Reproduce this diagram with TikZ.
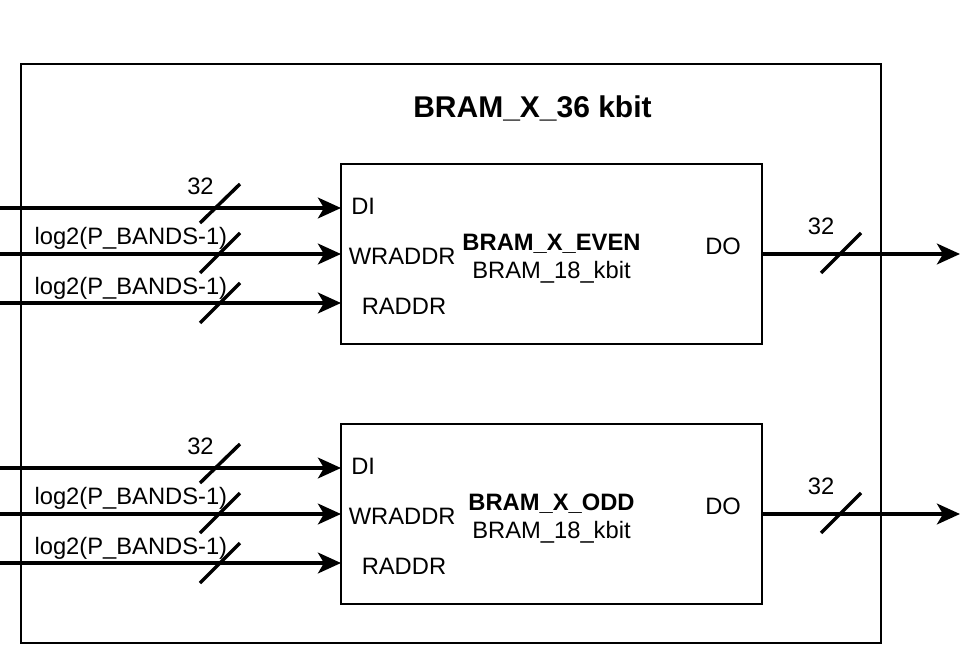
\documentclass[tikz,border=0pt]{standalone}
\usepackage{fontspec}
\setmainfont{Liberation Sans}
\usetikzlibrary{arrows.meta}
\tikzset{
  px/.style={x=0.75pt,y=-0.75pt},
  blk/.style={draw=black,line width=1.5pt,inner sep=0pt,minimum width=315.75pt,minimum height=135pt},
  outer/.style={draw=black,line width=1.5pt,inner sep=0pt,minimum width=645pt,minimum height=434.25pt},
  sig/.style={line width=3pt,-{Stealth[length=17.25pt,width=15.5pt,inset=4.5pt]}},
  slash/.style={line width=2.6pt},
  txt/.style={inner sep=0pt,font=\fontsize{17.8pt}{20pt}\selectfont},
  ttl/.style={inner sep=0pt,font=\fontsize{22.5pt}{26pt}\selectfont\bfseries},
  bt/.style={inner sep=0pt,font=\fontsize{17.8pt}{20pt}\selectfont\bfseries},
}
\begin{document}
\begin{tikzpicture}[px]
\useasboundingbox (0,0) rectangle (966,656);
\fill[white] (0,0) rectangle (966,656);
\node[outer] (top) at (451,353.5) {};
\node[ttl,anchor=base] (title) at (532.5,117.5) {BRAM\_X\_36 kbit};
\foreach \n/\dy/\name in {ev/0/BRAM\_X\_EVEN, od/260/BRAM\_X\_ODD}{
  \node[blk] (\n) at (551.5,254+\dy) {};
  \node[bt,anchor=base] (\n-name) at (551.5,250.5+\dy) {\name};
  \node[txt,anchor=base] (\n-sub) at (551.5,278+\dy) {BRAM\_18\_kbit};
  \node[txt,anchor=base west] (\n-di) at (351,214+\dy) {DI};
  \node[txt,anchor=base west] (\n-wr) at (348.5,264+\dy) {WRADDR};
  \node[txt,anchor=base west] (\n-rd) at (361.5,314+\dy) {RADDR};
  \node[txt,anchor=base west] (\n-do) at (705,254+\dy) {DO};
  % ports
  \coordinate (\n-pdi) at (341,208+\dy);
  \coordinate (\n-pwr) at (341,254+\dy);
  \coordinate (\n-prd) at (341,303+\dy);
  \coordinate (\n-pdo) at (762,254+\dy);
  \coordinate (\n-sdi) at (0,208+\dy);
  \coordinate (\n-swr) at (0,254+\dy);
  \coordinate (\n-srd) at (0,303+\dy);
  \coordinate (\n-out) at (960,254+\dy);
  \draw[sig] (\n-sdi) -- (\n-pdi);
  \draw[sig] (\n-swr) -- (\n-pwr);
  \draw[sig] (\n-srd) -- (\n-prd);
  \draw[sig] (\n-pdo) -- (\n-out);
  % bus slashes
  \draw[slash] (200,223+\dy) -- (240,184+\dy);
  \draw[slash] (200,273+\dy) -- (240,233+\dy);
  \draw[slash] (200,323+\dy) -- (240,283+\dy);
  \draw[slash] (821,273+\dy) -- (861,233+\dy);
  % bus labels
  \node[txt,anchor=base] (\n-w1) at (200.5,194+\dy) {32};
  \node[txt,anchor=base west] (\n-w2) at (34.3,244+\dy) {log2(P\_BANDS-1)};
  \node[txt,anchor=base west] (\n-w3) at (34.3,294+\dy) {log2(P\_BANDS-1)};
  \node[txt,anchor=base] (\n-w4) at (821,234+\dy) {32};
}
\end{tikzpicture}
\end{document}
